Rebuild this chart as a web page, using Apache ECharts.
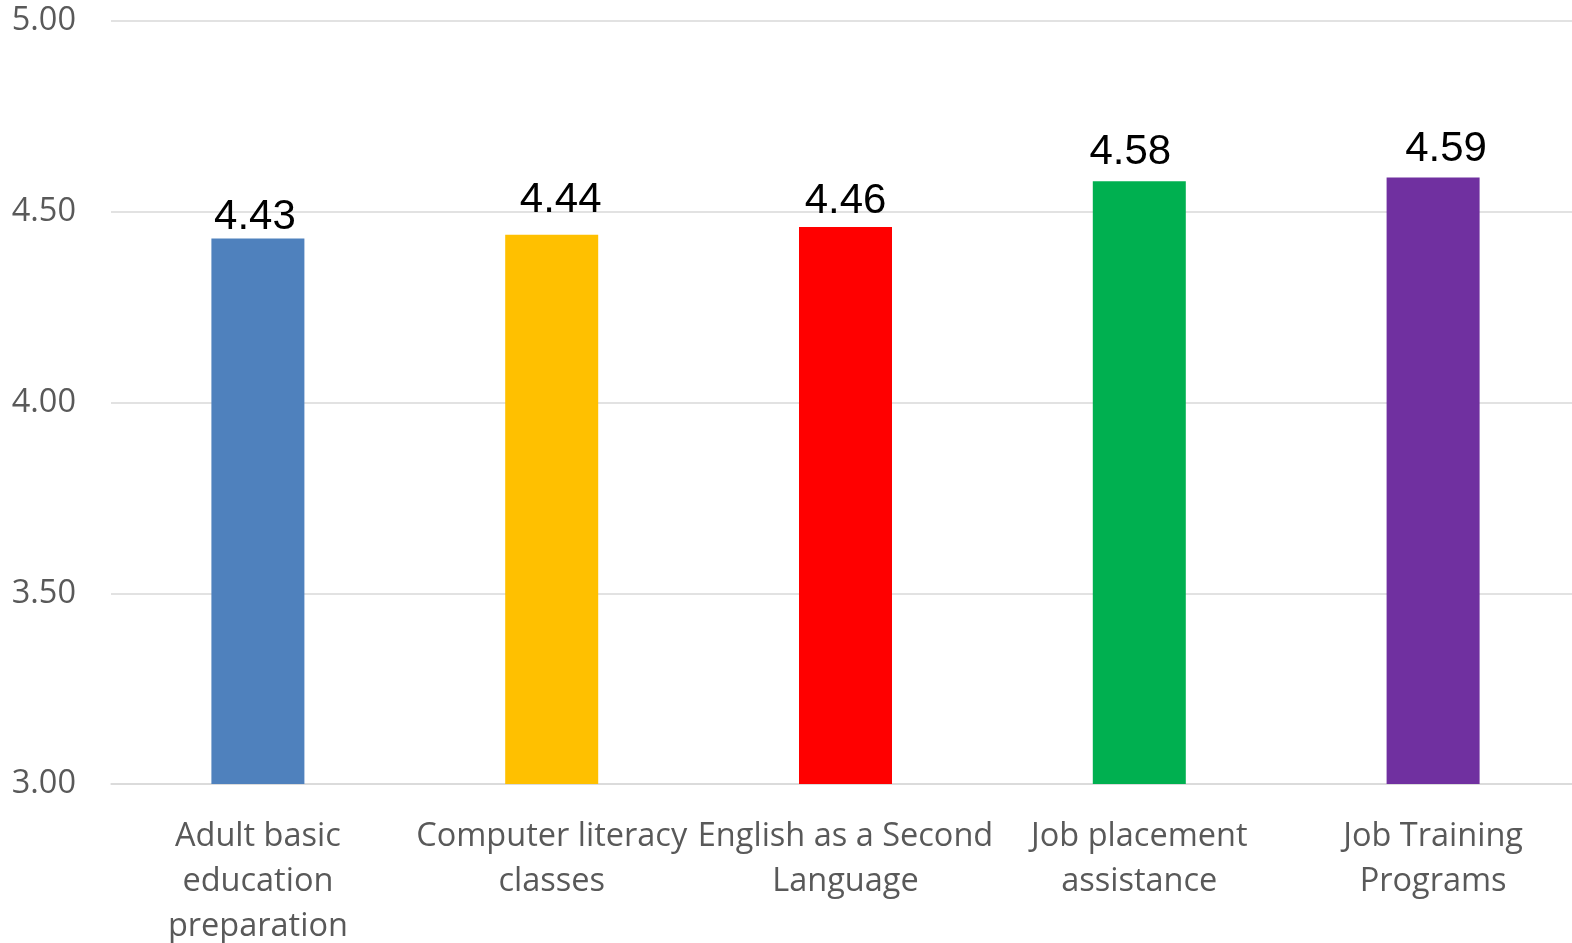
<!DOCTYPE html>
<html>
<head>
<meta charset="utf-8">
<script src="https://cdn.jsdelivr.net/npm/echarts@6/dist/echarts.min.js"></script>
<style>
html,body{margin:0;padding:0;background:#fff;}
#chart{width:1572px;height:943px;}
</style>
</head>
<body>
<div id="chart"></div>
<script>
const categories = ["Adult basic education preparation","Computer literacy classes","English as a Second Language","Job placement assistance","Job Training Programs"];
const categoryLabels = ["Adult basic\neducation\npreparation","Computer literacy\nclasses","English as a Second\nLanguage","Job placement\nassistance","Job Training\nPrograms"];
const values = [4.43, 4.44, 4.46, 4.58, 4.59];
const barColors = ["#4F81BD","#FFC000","#FF0000","#00B050","#7030A0"];
const yTicks = {min: 3, max: 5, interval: 0.5};

// manual nudges of the value labels (as placed in the original)
const labelNudges = [[-3, 1], [9, -12], [0, -4], [-9, -7], [13, -6]];

const chart = echarts.init(document.getElementById('chart'));
chart.setOption({
  animation: false,
  grid: {left: 111, right: -8, top: 21, bottom: 159, containLabel: false, outerBoundsMode: 'none'},
  xAxis: {
    type: 'category',
    data: categories,
    axisTick: {show: false},
    axisLine: {lineStyle: {color: '#d9d9d9', width: 1.5}},
    axisLabel: {
      interval: 0,
      hideOverlap: false,
      formatter: function(v, i){ return categoryLabels[i]; },
      fontFamily: 'Open Sans',
      fontSize: 32.5,
      lineHeight: 45,
      color: '#595959',
      margin: 30
    }
  },
  yAxis: {
    type: 'value',
    min: yTicks.min, max: yTicks.max, interval: yTicks.interval,
    axisLine: {show: false},
    axisTick: {show: false},
    splitLine: {lineStyle: {color: '#d9d9d9', width: 1.5}},
    axisLabel: {
      formatter: function(v){ return v.toFixed(2); },
      fontFamily: 'Open Sans',
      fontSize: 32.5,
      color: '#595959',
      margin: 35
    }
  },
  series: [{
    type: 'bar',
    barWidth: 93,
    data: values.map((v, i) => ({
      value: v,
      itemStyle: {color: barColors[i]},
      label: {offset: labelNudges[i]}
    })),
    label: {
      show: true,
      position: 'top',
      distance: 1,
      formatter: function(p){ return p.value.toFixed(2); },
      fontFamily: 'Liberation Sans',
      fontSize: 42,
      color: '#000'
    }
  }]
});
</script>
</body>
</html>
